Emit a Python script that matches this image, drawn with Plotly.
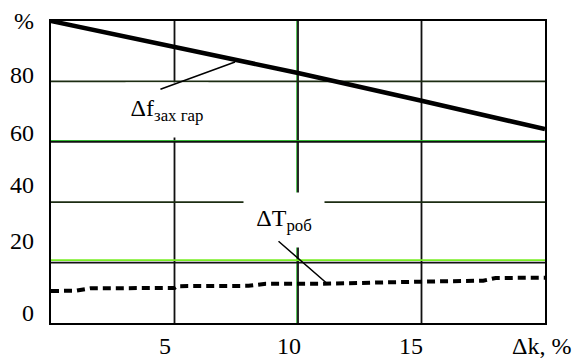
import plotly.graph_objects as go

# curves
dk = [0, 5, 10, 15, 20]
df_zah = [100, 91.3, 82.8, 73.6, 64.2]

dk_t = [0, 1.0, 1.6, 5.0, 5.1, 8.0, 8.7, 11.0, 15.0, 17.5, 18.0, 20.0]
dt_rob = [10.6, 10.7, 11.5, 11.6, 12.2, 12.3, 13.0, 13.0, 13.7, 14.0, 14.9, 15.0]

# axis labels (as placed in the original, slightly off the grid)
y_labels = ["%", "80", "60", "40", "20", "0"]
y_label_pos = [100, 82.1, 62.9, 45.7, 27.2, 3.3]
x_labels = ["5", "10", "15", "Δk, %"]
x_label_pos = [4.62, 9.64, 14.57, 19.85]

x_grid = [5, 10, 15]
y_grid = [20, 40, 60, 80]

font = "Times New Roman"

fig = go.Figure()

fig.add_trace(go.Scatter(
    x=dk, y=df_zah, mode="lines",
    line=dict(color="black", width=4.5),
    showlegend=False, hoverinfo="skip",
))
fig.add_trace(go.Scatter(
    x=dk_t, y=dt_rob, mode="lines",
    line=dict(color="black", width=4, dash="8px,5px"),
    showlegend=False, hoverinfo="skip",
))

shapes = []
for gx in x_grid:
    if gx == 10:
        shapes.append(dict(type="line", xref="x", yref="y", x0=gx - 0.05, x1=gx - 0.05,
                           y0=0, y1=100, line=dict(color="#22b022", width=1), layer="below"))
    shapes.append(dict(type="line", xref="x", yref="y", x0=gx, x1=gx, y0=0, y1=100,
                       line=dict(color="#111", width=1.8), layer="below"))
for gy in y_grid:
    if gy == 20:
        shapes.append(dict(type="line", xref="x", yref="y", x0=0, x1=20, y0=gy + 0.8, y1=gy + 0.8,
                           line=dict(color="#77ee22", width=1.8), layer="below"))
        color = "#111"
    elif gy == 60:
        shapes.append(dict(type="line", xref="x", yref="y", x0=0, x1=20, y0=gy + 0.4, y1=gy + 0.4,
                           line=dict(color="#22b022", width=1), layer="below"))
        color = "#111"
    else:
        color = "#1c2c12"
    shapes.append(dict(type="line", xref="x", yref="y", x0=0, x1=20, y0=gy, y1=gy,
                       line=dict(color=color, width=1.8), layer="below"))

annotations = []
for txt, v in zip(y_labels, y_label_pos):
    annotations.append(dict(x=0, y=v, xref="x", yref="y", text=txt, showarrow=False,
                            xanchor="right", yanchor="middle", xshift=-15,
                            font=dict(family=font, size=24, color="black")))
for txt, v in zip(x_labels, x_label_pos):
    annotations.append(dict(x=v, y=0, xref="x", yref="y", text=txt, showarrow=False,
                            xanchor="center", yanchor="middle", yshift=-23,
                            font=dict(family=font, size=24, color="black")))

# curve captions with white boxes that break the grid
annotations.append(dict(x=4.69, y=70.5, xref="x", yref="y",
                        text="Δf<sub>зах гар</sub>", showarrow=False,
                        bgcolor="white", width=80, height=52,
                        font=dict(family=font, size=24, color="black")))
annotations.append(dict(x=9.44, y=34.1, xref="x", yref="y",
                        text="ΔT<sub>роб</sub>", showarrow=False,
                        bgcolor="white", width=78, height=52,
                        font=dict(family=font, size=24, color="black")))

# leader lines
lead_f = [(4.37, 77.2), (7.45, 86.4)]
lead_t = [(9.15, 27.5), (11.2, 12.9)]
for (x0, y0), (x1, y1) in (lead_f, lead_t):
    annotations.append(dict(x=x1, y=y1, ax=x0, ay=y0, xref="x", yref="y",
                            axref="x", ayref="y", text="", showarrow=True,
                            arrowhead=0, arrowwidth=1.5, arrowcolor="black"))

fig.update_layout(
    width=582, height=358,
    margin=dict(l=51, r=37, t=21, b=35),
    plot_bgcolor="white", paper_bgcolor="white",
    shapes=shapes, annotations=annotations,
    xaxis=dict(range=[0, 20], showgrid=False, zeroline=False, showticklabels=False,
               showline=True, mirror=True, linecolor="black", linewidth=2),
    yaxis=dict(range=[0, 100], showgrid=False, zeroline=False, showticklabels=False,
               showline=True, mirror=True, linecolor="black", linewidth=2),
)

fig.write_html("out.html", config={"displayModeBar": False},
               post_script="document.body.style.margin='0';")
